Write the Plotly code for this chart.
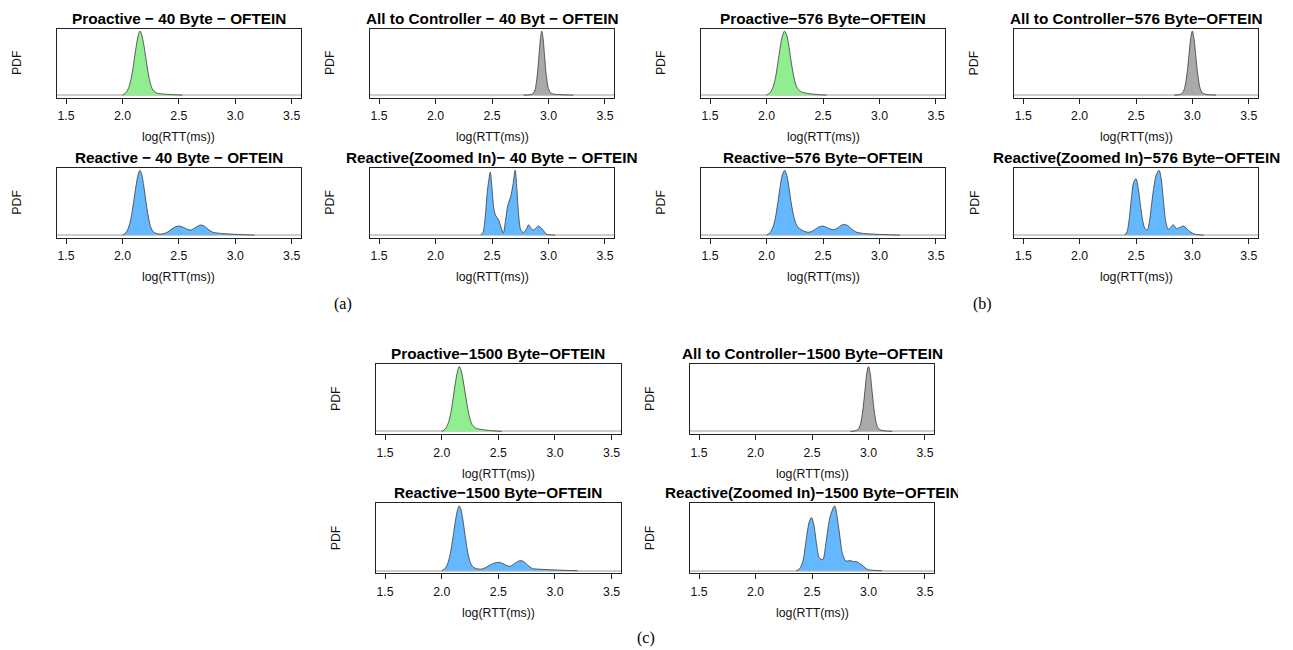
import plotly.graph_objects as go

W, H = 1293, 650
OFF = 8  # page body margin in the browser

# ---------------- data (peak-normalised density) ----------------
TICK_VALS = [1.5, 2.0, 2.5, 3.0, 3.5]
TICK_TEXT = ["1.5", "2.0", "2.5", "3.0", "3.5"]

TITLES = [
    "Proactive \u2212 40 Byte \u2212 OFTEIN",
    "All to Controller \u2212 40 Byt \u2212 OFTEIN",
    "Reactive \u2212 40 Byte \u2212 OFTEIN",
    "Reactive(Zoomed In)\u2212 40 Byte \u2212 OFTEIN",
    "Proactive\u2212576 Byte\u2212OFTEIN",
    "All to Controller\u2212576 Byte\u2212OFTEIN",
    "Reactive\u2212576 Byte\u2212OFTEIN",
    "Reactive(Zoomed In)\u2212576 Byte\u2212OFTEIN",
    "Proactive\u22121500 Byte\u2212OFTEIN",
    "All to Controller\u22121500 Byte\u2212OFTEIN",
    "Reactive\u22121500 Byte\u2212OFTEIN",
    "Reactive(Zoomed In)\u22121500 Byte\u2212OFTEIN",
]

PRO40_X = [2.00, 2.02, 2.04, 2.06, 2.08, 2.10, 2.12, 2.14, 2.155, 2.17, 2.19, 2.21, 2.23, 2.25, 2.27, 2.30, 2.35, 2.40, 2.46, 2.53]
PRO40_Y = [0.0, 0.02, 0.06, 0.14, 0.28, 0.50, 0.74, 0.93, 1.0, 0.95, 0.78, 0.55, 0.33, 0.17, 0.08, 0.035, 0.02, 0.012, 0.006, 0.0]

ATC40_X = [2.78, 2.83, 2.86, 2.88, 2.90, 2.915, 2.93, 2.94, 2.95, 2.965, 2.98, 3.00, 3.02, 3.05, 3.10, 3.16, 3.22]
ATC40_Y = [0.0, 0.005, 0.02, 0.08, 0.3, 0.6, 0.9, 1.0, 0.92, 0.62, 0.32, 0.1, 0.035, 0.015, 0.008, 0.004, 0.0]

REA40_X = [2.00, 2.02, 2.04, 2.06, 2.08, 2.10, 2.12, 2.14, 2.155, 2.17, 2.19, 2.21, 2.23, 2.25, 2.27, 2.30, 2.34,
           2.38, 2.42, 2.46, 2.50, 2.54, 2.58, 2.61, 2.65, 2.69, 2.72, 2.76, 2.80, 2.85, 2.92, 3.00, 3.08, 3.17]
REA40_Y = [0.0, 0.02, 0.06, 0.15, 0.3, 0.52, 0.76, 0.94, 1.0, 0.94, 0.75, 0.5, 0.28, 0.13, 0.06, 0.025, 0.015,
           0.03, 0.07, 0.12, 0.14, 0.12, 0.085, 0.08, 0.12, 0.155, 0.145, 0.09, 0.045, 0.03, 0.02, 0.012, 0.006, 0.0]

RZ40_X = [2.40, 2.42, 2.44, 2.46, 2.485, 2.50, 2.515, 2.53, 2.56, 2.58, 2.60, 2.62, 2.64, 2.665, 2.685, 2.705,
          2.72, 2.735, 2.755, 2.78, 2.80, 2.825, 2.845, 2.865, 2.89, 2.91, 2.93, 2.955, 2.985, 3.02, 3.06]
RZ40_Y = [0.0, 0.04, 0.28, 0.69, 0.97, 0.72, 0.43, 0.31, 0.23, 0.12, 0.03, 0.23, 0.46, 0.59, 0.77, 1.0,
          0.72, 0.33, 0.08, 0.04, 0.08, 0.16, 0.1, 0.08, 0.11, 0.14, 0.12, 0.07, 0.012, 0.003, 0.0]

PRO576_X = [2.00, 2.02, 2.04, 2.06, 2.08, 2.10, 2.12, 2.14, 2.16, 2.18, 2.20, 2.22, 2.24, 2.26, 2.28, 2.31, 2.35, 2.40, 2.46, 2.53]
PRO576_Y = [0.0, 0.02, 0.06, 0.14, 0.28, 0.50, 0.73, 0.92, 1.0, 0.93, 0.74, 0.5, 0.3, 0.16, 0.09, 0.05, 0.03, 0.018, 0.008, 0.0]

ATC576_X = [2.84, 2.88, 2.91, 2.93, 2.95, 2.97, 2.985, 3.0, 3.015, 3.03, 3.05, 3.07, 3.09, 3.12, 3.16, 3.21]
ATC576_Y = [0.0, 0.006, 0.03, 0.1, 0.3, 0.62, 0.88, 1.0, 0.88, 0.62, 0.3, 0.1, 0.035, 0.012, 0.005, 0.0]

REA576_X = [2.00, 2.02, 2.04, 2.06, 2.08, 2.10, 2.12, 2.14, 2.16, 2.18, 2.20, 2.22, 2.24, 2.26, 2.28, 2.31, 2.34, 2.37,
            2.40, 2.44, 2.47, 2.50, 2.53, 2.57, 2.60, 2.63, 2.66, 2.69, 2.72, 2.75, 2.79, 2.84, 2.90, 2.98, 3.06, 3.18]
REA576_Y = [0.0, 0.02, 0.06, 0.14, 0.28, 0.5, 0.74, 0.93, 1.0, 0.92, 0.72, 0.48, 0.3, 0.18, 0.12, 0.08, 0.055, 0.045,
            0.055, 0.1, 0.13, 0.14, 0.12, 0.09, 0.085, 0.11, 0.15, 0.165, 0.145, 0.1, 0.05, 0.03, 0.02, 0.012, 0.007, 0.0]

RZ576_X = [2.40, 2.42, 2.44, 2.46, 2.48, 2.50, 2.52, 2.54, 2.56, 2.58, 2.60, 2.62, 2.64, 2.66, 2.68, 2.705, 2.725, 2.745,
           2.765, 2.785, 2.80, 2.83, 2.86, 2.89, 2.92, 2.95, 2.98, 3.02, 3.06, 3.10]
RZ576_Y = [0.0, 0.05, 0.25, 0.58, 0.82, 0.87, 0.72, 0.45, 0.22, 0.1, 0.08, 0.22, 0.5, 0.76, 0.93, 1.0, 0.85, 0.5,
           0.2, 0.09, 0.1, 0.16, 0.1, 0.12, 0.14, 0.1, 0.05, 0.015, 0.004, 0.0]

PRO1500_X = [2.00, 2.02, 2.04, 2.06, 2.08, 2.10, 2.12, 2.14, 2.155, 2.17, 2.19, 2.21, 2.23, 2.25, 2.27, 2.30, 2.35, 2.40, 2.46, 2.53]
PRO1500_Y = [0.0, 0.02, 0.06, 0.14, 0.28, 0.50, 0.74, 0.93, 1.0, 0.95, 0.78, 0.56, 0.35, 0.19, 0.1, 0.05, 0.03, 0.018, 0.008, 0.0]

ATC1500_X = [2.84, 2.88, 2.91, 2.93, 2.95, 2.97, 2.985, 3.0, 3.015, 3.03, 3.05, 3.07, 3.09, 3.12, 3.16, 3.21]
ATC1500_Y = [0.0, 0.008, 0.035, 0.12, 0.33, 0.65, 0.9, 1.0, 0.9, 0.65, 0.33, 0.12, 0.04, 0.015, 0.006, 0.0]

REA1500_X = [2.00, 2.02, 2.04, 2.06, 2.08, 2.10, 2.12, 2.14, 2.155, 2.17, 2.19, 2.21, 2.23, 2.25, 2.27, 2.30, 2.35,
             2.39, 2.43, 2.47, 2.50, 2.54, 2.58, 2.61, 2.65, 2.69, 2.72, 2.76, 2.80, 2.85, 2.92, 3.00, 3.08, 3.20]
REA1500_Y = [0.0, 0.02, 0.06, 0.15, 0.3, 0.52, 0.76, 0.94, 1.0, 0.94, 0.75, 0.5, 0.28, 0.14, 0.07, 0.035, 0.025,
             0.05, 0.09, 0.12, 0.13, 0.11, 0.075, 0.07, 0.12, 0.155, 0.145, 0.085, 0.035, 0.025, 0.018, 0.012, 0.006, 0.0]

RZ1500_X = [2.36, 2.39, 2.42, 2.45, 2.475, 2.495, 2.515, 2.54, 2.565, 2.595, 2.625, 2.66, 2.70, 2.735, 2.77, 2.80,
            2.835, 2.87, 2.895, 2.94, 2.97, 3.00, 3.05, 3.12]
RZ1500_Y = [0.0, 0.03, 0.15, 0.5, 0.75, 0.82, 0.72, 0.42, 0.2, 0.17, 0.45, 0.83, 1.0, 0.68, 0.26, 0.15,
            0.156, 0.14, 0.14, 0.09, 0.045, 0.015, 0.005, 0.0]

SERIES = [
    (PRO40_X, PRO40_Y), (ATC40_X, ATC40_Y), (REA40_X, REA40_Y), (RZ40_X, RZ40_Y),
    (PRO576_X, PRO576_Y), (ATC576_X, ATC576_Y), (REA576_X, REA576_Y), (RZ576_X, RZ576_Y),
    (PRO1500_X, PRO1500_Y), (ATC1500_X, ATC1500_Y), (REA1500_X, REA1500_Y), (RZ1500_X, RZ1500_Y),
]
KINDS = ["pro", "atc", "rea", "rea"] * 3
FILL = {"pro": "#90EE90", "atc": "#A9A9A9", "rea": "#63B8FF"}

# ---------------- layout (pixel boxes in page coordinates) ----------------
BOXES = [  # x0, x1, y0(top), y1(bottom)
    (57, 300.7, 28.5, 97.7), (370, 614, 28.5, 97.7),
    (57, 300.7, 167.7, 237.7), (370, 614, 167.7, 237.7),
    (701, 945, 28.5, 97.7), (1014.3, 1257.7, 28.5, 97.7),
    (701, 945, 167.7, 237.7), (1014.3, 1257.7, 167.7, 237.7),
    (376, 620.7, 364, 434), (690, 934, 364, 434),
    (376, 620.7, 503.3, 573.3), (690, 934, 503.3, 573.3),
]

FW, FH = W - OFF, H - OFF

def px(x):
    return (x - OFF) / FW

def py(y):
    return 1 - (y - OFF) / FH

fig = go.Figure()
layout = {}
annotations = []
FONT = "Liberation Sans, Arial, Helvetica, sans-serif"

for i, ((xs, ys), kind, box, title) in enumerate(zip(SERIES, KINDS, BOXES, TITLES)):
    n = "" if i == 0 else str(i + 1)
    x0, x1, y0, y1 = box
    fig.add_trace(go.Scatter(
        x=xs, y=ys, mode="lines", fill="tozeroy",
        fillcolor=FILL[kind],
        line=dict(color="#3a3a3a", width=0.8, shape="spline", smoothing=0.8),
        xaxis="x" + n, yaxis="y" + n, showlegend=False, hoverinfo="skip",
    ))
    layout["xaxis" + n] = dict(
        domain=[px(x0), px(x1)], anchor="y" + n, range=[1.42, 3.58],
        showline=True, mirror=True, linecolor="#222", linewidth=1,
        showgrid=False, zeroline=False,
        tickvals=TICK_VALS, ticktext=TICK_TEXT, ticks="outside", ticklen=5,
        tickcolor="#222", tickfont=dict(family=FONT, size=12.3, color="#111"),
        ticklabelstandoff=2,
    )
    layout["yaxis" + n] = dict(
        domain=[py(y1), py(y0)], anchor="x" + n, range=[-0.04, 1.04],
        showline=True, mirror=True, linecolor="#222", linewidth=1,
        showgrid=False, showticklabels=False, ticks="",
        zeroline=True, zerolinecolor="#CDCDCD", zerolinewidth=2,
    )
    cx = (x0 + x1) / 2
    if i == 11:
        annotations.append(dict(
            x=px(662.7), y=py(y0 - 10.5), xref="paper", yref="paper",
            xanchor="left", yanchor="middle", align="left", width=293,
            text="<b>" + title + "</b>", showarrow=False,
            font=dict(family=FONT, size=15.3, color="#000"),
        ))
    else:
        annotations.append(dict(
            x=px(cx), y=py(y0 - 10.5), xref="paper", yref="paper",
            xanchor="center", yanchor="middle",
            text="<b>" + title + "</b>", showarrow=False,
            font=dict(family=FONT, size=15.3, color="#000"),
        ))
    annotations.append(dict(
        x=px(cx), y=py(y1 + 39.5), xref="paper", yref="paper",
        xanchor="center", yanchor="middle", text="log(RTT(ms))", showarrow=False,
        font=dict(family=FONT, size=12.3, color="#111"),
    ))
    annotations.append(dict(
        x=px(x0 - 40), y=py((y0 + y1) / 2), xref="paper", yref="paper",
        xanchor="center", yanchor="middle", text="PDF", textangle=-90, showarrow=False,
        font=dict(family=FONT, size=12.3, color="#111"),
    ))

for lab, lx, ly in [("(a)", 343, 304), ("(b)", 982, 304), ("(c)", 646, 638)]:
    annotations.append(dict(
        x=px(lx), y=py(ly), xref="paper", yref="paper", xanchor="center", yanchor="middle",
        text=lab, showarrow=False,
        font=dict(family="Liberation Serif, Times New Roman, serif", size=16, color="#000"),
    ))

fig.update_layout(
    width=FW, height=FH, margin=dict(l=0, r=0, t=0, b=0),
    paper_bgcolor="white", plot_bgcolor="white",
    annotations=annotations, showlegend=False,
    **layout,
)

fig.write_html("out.html")
